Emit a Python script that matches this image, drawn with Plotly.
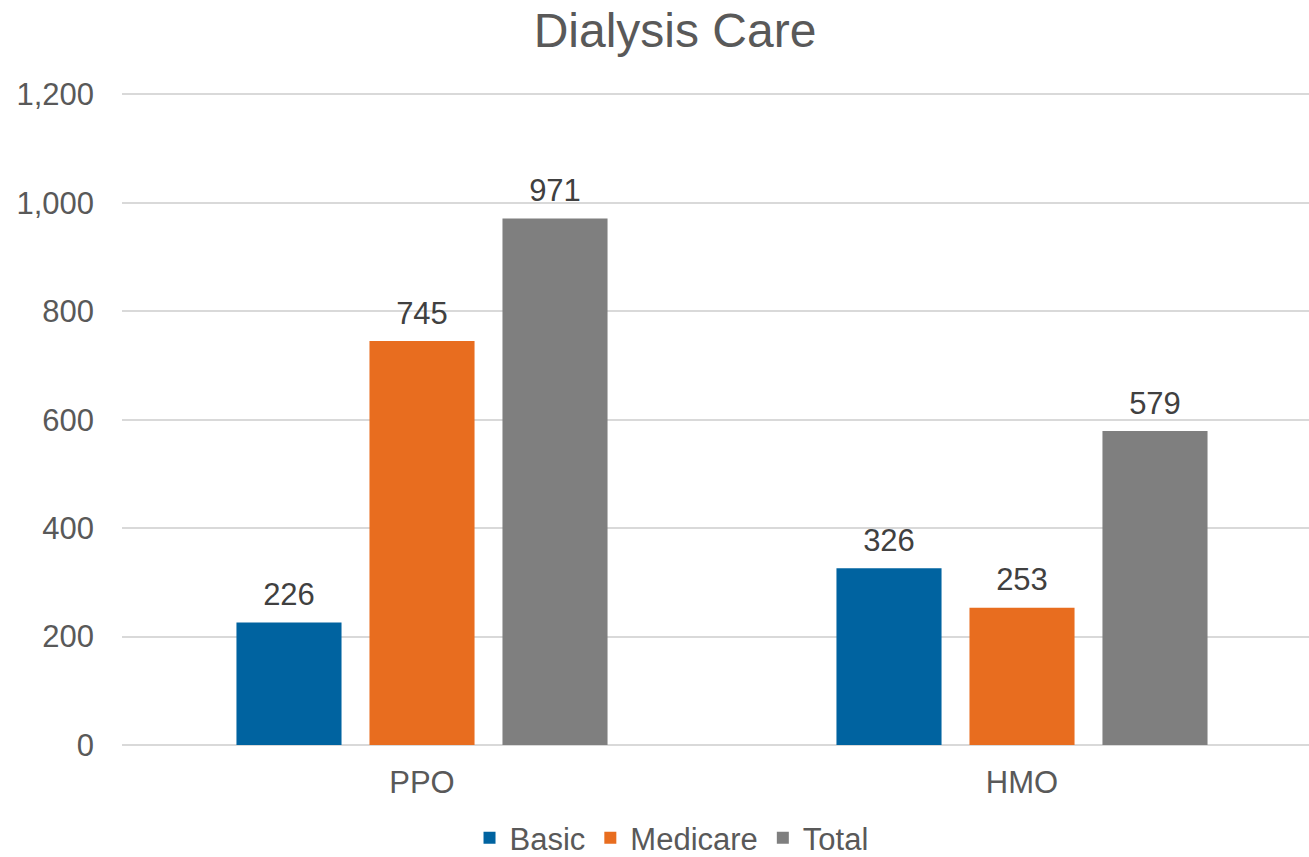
import plotly.graph_objects as go

categories = ["PPO", "HMO"]
series_names = ["Basic", "Medicare", "Total"]
basic = [226, 326]
medicare = [745, 253]
total = [971, 579]
colors = ["#0063A0", "#E86D1F", "#7F7F7F"]
y_ticks = [0, 200, 400, 600, 800, 1000, 1200]
y_tick_labels = ["0", "200", "400", "600", "800", "1,000", "1,200"]

fig = go.Figure()
for name, vals, c in zip(series_names, [basic, medicare, total], colors):
    fig.add_trace(go.Bar(
        name=name, x=[0, 1], y=vals, marker=dict(color=c, line=dict(width=0)),
        hoverinfo="skip",
    ))
# value labels as grouped scatter text so they can sit a little above the bars
for name, vals in zip(series_names, [basic, medicare, total]):
    fig.add_trace(go.Scatter(
        x=[0, 1], y=vals, mode="markers+text", text=[str(v) for v in vals],
        textposition="top center", textfont=dict(size=31, color="#404040"),
        marker=dict(size=14, color="rgba(0,0,0,0)"), showlegend=False,
        hoverinfo="skip", cliponaxis=False,
    ))

fig.update_layout(
    width=1309, height=857,
    margin=dict(l=122, r=0, t=89, b=112),
    paper_bgcolor="white", plot_bgcolor="white",
    font=dict(family="Liberation Sans, Arial", color="#595959"),
    title=dict(text="Dialysis Care", x=0.5157, xanchor="center", y=0.965, yanchor="middle",
               font=dict(size=48, color="#595959")),
    barmode="group", bargap=0.335, bargroupgap=0.21,
    scattermode="group", scattergap=0.335,
    showlegend=True,
    legend=dict(orientation="h", x=0.513, xanchor="center", xref="container",
                y=0.022, yanchor="middle", yref="container",
                font=dict(size=31, color="#595959"), itemwidth=30, traceorder="normal"),
    xaxis=dict(tickmode="array", tickvals=[0, 1], ticktext=categories,
               range=[-0.5, -0.5 + 1187 / 600], showgrid=False, zeroline=False,
               showline=False, ticks="", tickfont=dict(size=31, color="#595959")),
    yaxis=dict(range=[0, 1210], tickmode="array", tickvals=y_ticks, ticktext=y_tick_labels,
               showgrid=True, gridcolor="#D9D9D9", gridwidth=1.5, zeroline=True,
               zerolinecolor="#D9D9D9", zerolinewidth=1.5, showline=False, ticks="",
               ticklen=0, tickfont=dict(size=31, color="#595959")),
)
fig.update_yaxes(ticklabelstandoff=27)
fig.update_xaxes(ticklabelstandoff=16)
fig.write_html("out.html", config={"displayModeBar": False},
               post_script="document.body.style.margin='0';")
